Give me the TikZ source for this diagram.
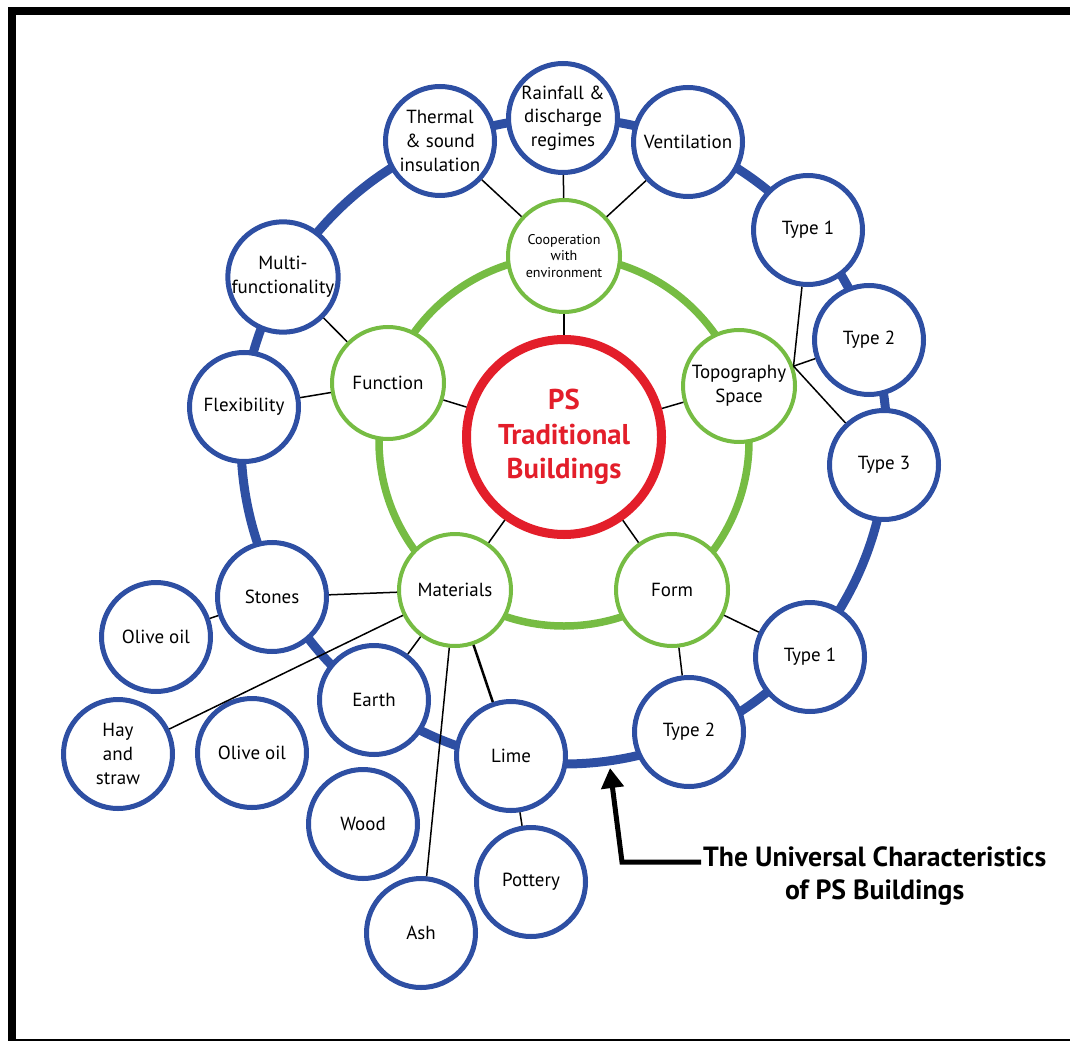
\documentclass[tikz,border=0pt]{standalone}
\usepackage{fontspec}
\setmainfont{PT Sans}
\usepackage{tikz}
\usetikzlibrary{arrows.meta}
\usetikzlibrary{calc}
\definecolor{ringblue}{RGB}{46,79,163}
\definecolor{ringgreen}{RGB}{118,188,67}
\definecolor{corered}{RGB}{227,30,42}

\begin{document}
\begin{tikzpicture}[
        x=0.2mm, y=-0.2mm, % Unidad: 1 px de la imagen, y hacia abajo
        font=\fontsize{10.8}{13.4}\selectfont, % Fuente de los circulos
        core/.style={circle, draw=corered, line width=1.8mm, fill=white,
        minimum size=39mm, align=center, text=corered,
        font=\fontsize{16.3}{19.6}\selectfont\bfseries}, % Circulo central
        aspect/.style={circle, draw=ringgreen, line width=0.8mm, fill=white,
        minimum size=22.4mm, inner sep=0pt, align=center}, % Circulos verdes
        item/.style={circle, draw=ringblue, line width=1mm, fill=white,
        minimum size=21.8mm, inner sep=0pt, align=center}, % Circulos azules
        link/.style={black, line width=0.3mm}, % Lineas de union
        ring/.style={line width=1.8mm}, % Anillos
        pointer/.style={line width=1mm, -{Triangle[length=4mm, width=4.4mm]}} % Flecha
    ]
        \useasboundingbox (0,0) rectangle (1070,1041);

        % --- Marco ---
        \fill (8,7) rectangle (1070,15);
        \fill (8,7) rectangle (16,1039);
        \draw[line width=0.4mm] (8,1039.5) -- (1070,1039.5);

        % --- Anillos ---
        \coordinate (hub) at (564,441);
        \draw[ring, ringblue] (hub) circle[radius=64.6mm];
        \draw[ring, ringgreen, line width=1.5mm] (hub) circle[radius=37mm];

        % --- Centro y aspectos ---
        \node[core] (core) at (564,437) {PS\\Traditional\\Buildings};
        \node[aspect, font=\fontsize{8}{9.4}\selectfont] (coop) at (564,256) {Cooperation\\with\\environment};
        \node[aspect] (func) at (388,383) {Function};
        \node[aspect] (topo) at (739,386) {Topography\\Space};
        \node[aspect] (mat) at (455,590) {Materials};
        \node[aspect] (form) at (672,590) {Form};

        % --- Caracteristicas sobre el anillo azul ---
        \node[item] (thermal) at (440,141) {Thermal\\\& sound\\insulation};
        \node[item] (rain) at (563,118) {Rainfall \&\\discharge\\regimes};
        \node[item] (vent) at (688,142) {Ventilation};
        \node[item] (ta) at (808,230) {Type 1};
        \node[item] (tb) at (869,340) {Type 2};
        \node[item] (tc) at (884,465) {Type 3};
        \node[item] (fa) at (810,657) {Type 1};
        \node[item] (fb) at (689,732) {Type 2};
        \node[item] (lime) at (511,756) {Lime};
        \node[item] (earth) at (374,700) {Earth};
        \node[item] (stones) at (272,597) {Stones};
        \node[item] (flex) at (244,407) {Flexibility};
        \node[item] (multi) at (283,277) {Multi-\\functionality};

        % --- Materiales sueltos ---
        \node[item] (olive) at (156,637) {Olive oil};
        \node[item] (hay) at (118,754) {Hay\\and\\straw};
        \node[item] (oliveb) at (252,753) {Olive oil};
        \node[item] (wood) at (363,824) {Wood};
        \node[item] (ash) at (421,933) {Ash};
        \node[item] (pottery) at (531,882) {Pottery};

        % --- Lineas de union ---
        \foreach \a in {coop, func, topo, mat, form}
            \draw[link] (core) -- (\a);
        \foreach \a in {thermal, rain, vent}
            \draw[link] (coop) -- (\a);
        \draw[link] (func) -- (multi);
        \draw[link] (func) -- (flex);
        \foreach \a in {ta, tb, tc}
            \draw[link] (topo.20) -- (\a);
        \draw[link] (form) -- (fa);
        \draw[link] (form) -- (fb);
        \foreach \a in {stones, hay, earth, ash}
            \draw[link] (mat) -- (\a);
        \draw[link, line width=0.5mm] (mat) -- (lime);
        \draw[link] (stones) -- (olive);
        \draw[link] (lime) -- (pottery);

        % --- Leyenda con flecha ---
        \node[anchor=west, inner sep=1pt, align=center,
        font=\fontsize{15.8}{19.2}\selectfont\bfseries] (caption) at (701,876)
            {The Universal Characteristics\\of PS Buildings};
        \coordinate (elbow) at (622,862);
        \coordinate (tip) at (610,768);
        \draw[pointer] (caption.west) ++(0,-14) -- (elbow) -- (tip);

    \end{tikzpicture}
\end{document}
